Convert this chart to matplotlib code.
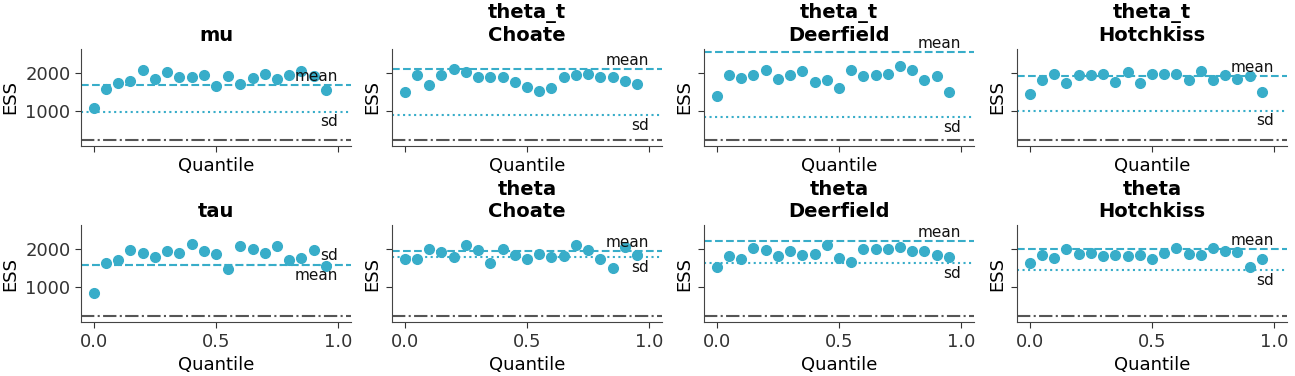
import numpy as np
import matplotlib
matplotlib.use("Agg")
import matplotlib.pyplot as plt

# quantiles 0, 0.05, ..., 0.95
quantiles = [0.00, 0.05, 0.10, 0.15, 0.20, 0.25, 0.30, 0.35, 0.40, 0.45,
             0.50, 0.55, 0.60, 0.65, 0.70, 0.75, 0.80, 0.85, 0.90, 0.95]

titles = ["mu", "theta_t\nChoate", "theta_t\nDeerfield", "theta_t\nHotchkiss",
          "tau", "theta\nChoate", "theta\nDeerfield", "theta\nHotchkiss"]

ess_mu = [1071, 1575, 1726, 1788, 2080, 1841, 2027, 1894, 1894, 1947,
          1655, 1920, 1708, 1867, 1973, 1841, 1947, 2053, 1910, 1540]
ess_tt_choate = [1496, 1947, 1690, 1947, 2106, 2027, 1894, 1894, 1894, 1761,
                 1628, 1522, 1602, 1894, 1929, 1973, 1894, 1894, 1788, 1708]
ess_tt_deerfield = [1389, 1947, 1858, 1929, 2080, 1832, 1947, 2053, 1761, 1814,
                    1602, 2080, 1920, 1947, 1965, 2168, 2071, 1814, 1903, 1496]
ess_tt_hotchkiss = [1451, 1814, 1973, 1735, 1929, 1947, 1956, 1761, 2027, 1735,
                    1973, 1973, 1973, 1814, 2053, 1796, 1947, 1841, 1903, 1496]
ess_tau = [855, 1641, 1701, 1966, 1897, 1778, 1949, 1897, 2137, 1949,
           1880, 1487, 2077, 2000, 1897, 2077, 1718, 1752, 1966, 1550]
ess_th_choate = [1744, 1726, 2000, 1932, 1778, 2103, 1974, 1641, 2000, 1846,
                 1726, 1872, 1803, 1829, 2103, 1974, 1726, 1513, 2060, 1846]
ess_th_deerfield = [1538, 1821, 1744, 2026, 1974, 1821, 1949, 1846, 1872, 2103,
                    1769, 1667, 2000, 2000, 2000, 2051, 1949, 1949, 1846, 1803]
ess_th_hotchkiss = [1641, 1846, 1769, 2000, 1872, 1897, 1821, 1846, 1821, 1846,
                    1744, 1897, 2026, 1872, 1846, 2026, 1949, 1923, 1538, 1726]

ess_quantile = [ess_mu, ess_tt_choate, ess_tt_deerfield, ess_tt_hotchkiss,
                ess_tau, ess_th_choate, ess_th_deerfield, ess_th_hotchkiss]
ess_mean = [1673, 2097, 2540, 1912, 1575, 1940, 2197, 2000]
ess_sd = [982, 894, 841, 1009, 1592, 1786, 1624, 1453]
min_ess = 240

color = "#38adc9"

fig = plt.figure(figsize=(12.95, 3.76), dpi=100)
lefts = [0.0625, 0.3027, 0.5436, 0.7853]
bottoms = [0.6117, 0.1428]
w, h = 0.2085, 0.258

axes = []
for i in range(8):
    r, c = divmod(i, 4)
    ax = fig.add_axes([lefts[c], bottoms[r], w, h],
                      sharey=axes[0] if axes else None,
                      sharex=axes[0] if axes else None)
    axes.append(ax)

for i, ax in enumerate(axes):
    r, c = divmod(i, 4)
    ax.plot(quantiles, ess_quantile[i], "o", color=color, markersize=7, zorder=3)
    ax.axhline(ess_mean[i], color=color, linestyle="--", lw=1.5)
    ax.axhline(ess_sd[i], color=color, linestyle=":", lw=1.5)
    ax.axhline(min_ess, color="#555555", linestyle="-.", lw=1.5)

    mean_above = ess_mean[i] >= ess_sd[i]
    ax.annotate("mean", (1.0, ess_mean[i]), xytext=(0, 1 if mean_above else -2),
                textcoords="offset points", ha="right",
                va="bottom" if mean_above else "top", fontsize=11, color="#111111")
    ax.annotate("sd", (1.0, ess_sd[i]), xytext=(0, -2 if mean_above else 1),
                textcoords="offset points", ha="right",
                va="top" if mean_above else "bottom", fontsize=11, color="#111111")

    ax.set_title(titles[i], fontsize=14, fontweight="bold")
    ax.set_xlabel("Quantile", fontsize=13)
    ax.set_ylabel("ESS", fontsize=13)
    ax.spines["top"].set_visible(False)
    ax.spines["right"].set_visible(False)
    for s in ["left", "bottom"]:
        ax.spines[s].set_color("#444444")
    ax.tick_params(labelsize=13, colors="#333333", length=4)
    ax.set_xticks([0, 0.5, 1.0])
    ax.set_yticks([1000, 2000])
    if r == 0:
        ax.tick_params(labelbottom=False)
    if c > 0:
        ax.tick_params(labelleft=False)

axes[0].set_xlim(-0.0525, 1.0525)
axes[0].set_ylim(80, 2620)

fig.savefig("out.png", dpi=100)
